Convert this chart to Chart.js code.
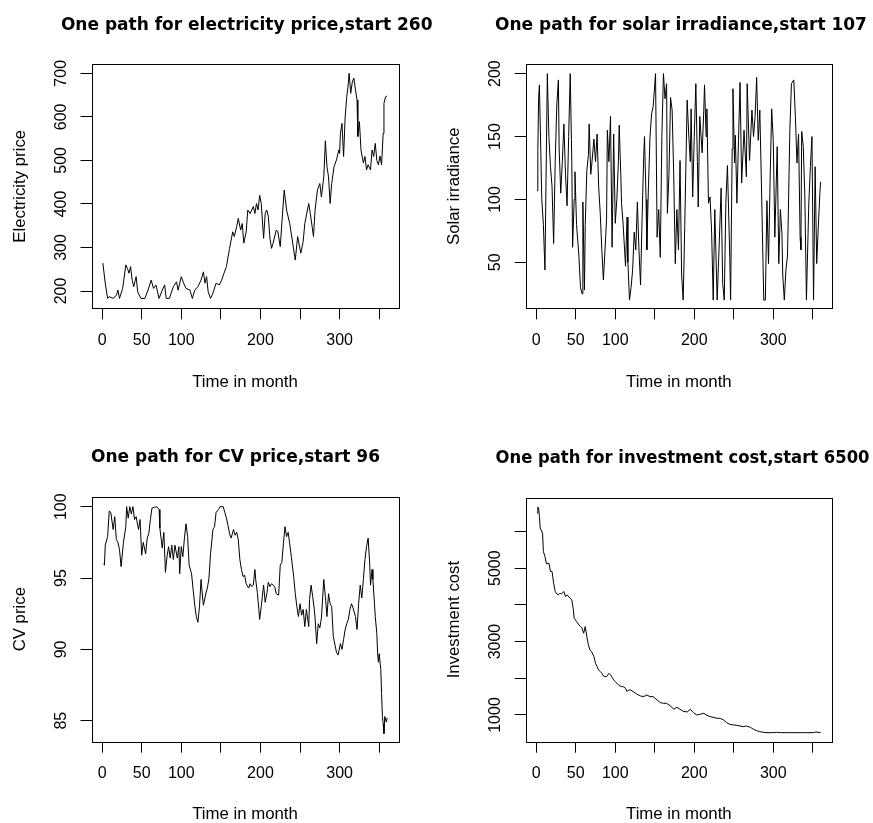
<!DOCTYPE html>
<html><head><meta charset="utf-8">
<script src="https://cdn.jsdelivr.net/npm/chart.js@4.4.1/dist/chart.umd.min.js"></script>
<style>
html,body{margin:0;padding:0;background:#fff;width:873px;height:823px;overflow:hidden;position:relative}
canvas{position:absolute}
</style></head><body>
<canvas id="c1" width="439" height="411" style="left:0px;top:0px"></canvas>
<canvas id="c2" width="439" height="411" style="left:434px;top:0px"></canvas>
<canvas id="c3" width="439" height="411" style="left:0px;top:432px"></canvas>
<canvas id="c4" width="439" height="411" style="left:434px;top:432px"></canvas>
<script>
// ---------- data ----------
const xTickValues = [0, 50, 100, 150, 200, 250, 300, 350];
const xTickLabels = ['0', '50', '100', '', '200', '', '300', ''];
const xAxisTitle = 'Time in month';

const elecTitle = 'One path for electricity price,start 260';
const elecYLabel = 'Electricity price';
const elecYTicks = [200, 300, 400, 500, 600, 700];
const elecYTickLabels = ['200', '300', '400', '500', '600', '700'];
const elecMonths = [1,4,7,9,14,18,20,22,26,30,32,34,36,38,40,43,45,49,54,58,62,65,68,72,76,79,81,85,90,94,96,100,103,106,111,114,117,121,125,128,130,132,134,137,140,144,148,151,154,157,161,165,167,170,172,175,177,179,182,184,187,191,193,195,197,199,201,204,206,208,210,212,214,216,220,222,225,230,233,237,244,247,251,254,256,261,263,267,269,272,275,277,280,282,284,286,288,290,293,296,299,300,301,303,305,307,309,311,312,314,316,318,320,322,323,325,327,330,332,334,336,339,341,343,345,347,349,351,353,355,356,358,360];
const elecValues = [264,218,183,187,183,190,202,183,206,260,252,241,256,225,210,233,198,183,183,202,225,206,214,183,202,214,183,183,210,221,202,233,218,206,202,183,202,210,225,244,218,233,198,183,195,218,214,225,241,256,298,336,325,348,367,340,355,310,336,386,378,394,378,401,386,420,401,321,378,386,371,321,298,310,340,336,302,432,386,355,271,325,287,314,355,401,378,325,386,432,447,416,462,545,486,462,401,447,486,501,524,516,562,585,509,600,646,677,700,654,680,689,662,639,555,589,524,494,509,478,490,478,524,509,539,500,490,510,490,562,631,646,648];

const solarTitle = 'One path for solar irradiance,start 107';
const solarYLabel = 'Solar irradiance';
const solarYTicks = [50, 100, 150, 200];
const solarYTickLabels = ['50', '100', '150', '200'];
const solarMonths = [1,2,3,4,5,7,9,11,14,16,18,20,22,24,26,28,29,31,33,35,37,39,41,43,45,46,48,49,51,54,56,58,59,61,62,64,66,67,69,70,73,75,77,79,81,83,85,87,89,90,92,94,96,98,100,102,104,105,107,108,110,113,115,116,118,120,122,124,126,128,130,132,134,136,137,139,140,142,144,146,148,151,153,155,157,159,161,163,165,166,168,170,172,174,176,178,180,182,184,186,188,189,191,193,195,196,198,200,202,204,205,207,210,212,213,215,216,218,220,222,224,226,229,231,234,236,238,240,242,245,246,248,249,251,252,254,256,258,260,263,266,267,270,273,275,277,279,281,283,285,287,288,290,292,294,296,298,300,302,305,307,309,311,312,314,316,318,319,321,323,326,328,330,332,334,335,336,338,340,342,345,347,349,351,353,355,357,359,360];
const solarValues = [107,139,181,191,160,100,80,44,200,150,126,110,65,130,175,195,140,105,130,160,120,95,150,200,130,62,100,122,80,55,30,25,98,28,80,123,135,160,120,126,148,130,152,110,89,60,36,60,84,155,130,166,62,152,81,100,130,159,120,97,80,47,86,50,20,30,44,74,60,98,60,32,86,134,150,100,60,110,150,168,174,200,70,92,54,150,200,180,192,89,120,181,171,120,49,92,60,131,40,20,80,113,179,152,130,172,102,150,192,130,94,166,137,170,191,150,172,97,102,74,20,92,20,54,109,33,20,97,127,54,20,140,188,129,151,97,147,193,113,155,118,192,131,171,150,166,197,147,171,113,50,20,20,99,49,115,172,147,70,142,49,92,73,40,20,44,55,86,155,192,195,166,129,152,70,60,154,142,102,20,97,126,150,20,126,49,78,105,114];

const cvTitle = 'One path for CV price,start 96';
const cvYLabel = 'CV price';
const cvYTicks = [85, 90, 95, 100];
const cvYTickLabels = ['85', '90', '95', '100'];
const cvMonths = [2,3,4,7,9,11,14,16,18,20,22,24,27,30,31,33,35,37,39,41,43,46,48,50,52,55,57,59,61,63,66,69,72,73,76,78,80,82,84,86,88,90,92,95,97,98,100,102,104,106,108,110,113,115,117,119,121,123,125,127,128,131,133,135,137,140,142,144,147,149,153,155,157,159,161,163,166,168,170,172,174,176,178,180,182,185,187,189,191,193,194,196,198,199,201,204,206,208,210,212,214,216,218,220,223,225,227,229,231,233,235,237,239,242,244,246,248,250,252,254,256,258,261,262,264,266,268,269,271,273,275,277,280,282,284,286,288,290,292,296,298,301,303,305,307,309,311,313,315,317,320,322,324,326,328,330,332,334,336,338,339,341,342,344,345,347,348,349,350,352,353,354,355,356,357,359,360];
const cvValues = [96.0,95.9,97.3,97.9,99.7,99.6,98.4,99.3,97.7,97.5,97.0,95.8,97.5,98.6,100,99.2,100,99.5,100,99.1,99.3,98.4,99.1,96.6,97.5,96.7,97.8,98.1,99.1,99.9,99.95,100,99.8,98.5,97.1,98.2,95.4,96.5,97.2,96.4,97.3,96.3,97.3,96.4,97.2,95.3,97.2,96.5,97.8,98.8,97.9,95.9,95.3,94.2,93.1,92.3,91.9,93.0,94.9,93.6,93.1,93.9,94.3,95.0,96.7,98.4,98.6,99.6,99.8,100,100,99.6,99.2,98.7,98.1,97.8,98.4,98.0,98.2,97.7,96.3,95.6,95.1,95.2,94.6,94.3,94.6,94.4,94.5,95.6,94.9,94.0,92.8,92.1,93.0,94.5,93.3,93.9,94.7,94.4,94.6,94.5,94.4,93.9,93.8,95.9,96.1,97.4,98.6,97.9,98.2,97.4,96.5,95.1,93.9,93.0,92.3,93.2,92.4,92.8,91.6,92.8,91.6,93.5,94.5,93.7,92.8,92.2,90.4,91.8,91.5,92.2,94.9,93.7,92.3,93.9,93.2,93.0,90.9,89.8,89.6,90.4,90.0,90.7,91.4,91.8,92.1,92.8,93.2,92.9,92.3,91.4,93.2,94.5,93.6,94.9,96.3,97.2,97.8,96.0,94.5,95.6,94.9,93.2,92.3,91.1,89.7,89.1,89.7,88.6,86.9,85.3,84.8,84.1,85.3,84.9,85.2];

const invTitle = 'One path for investment cost,start 6500';
const invYLabel = 'Investment cost';
const invYTicks = [1000, 2000, 3000, 4000, 5000, 6000];
const invYTickLabels = ['1000', '', '3000', '', '5000', ''];
const invMonths = [1,2,3,4,5,8,9,11,13,16,18,20,22,24,26,28,30,32,35,37,39,43,45,47,48,51,54,56,58,60,62,64,66,68,70,73,75,77,79,81,83,85,87,89,92,94,96,98,100,102,104,106,108,110,113,115,117,119,123,127,132,136,140,144,148,153,157,161,165,170,174,178,182,186,191,195,199,203,207,212,216,220,224,229,233,237,241,245,250,254,258,262,266,271,275,279,283,288,292,300,304,309,317,326,334,342,351,354,360];
const invValues = [6500,6664,6636,6409,6091,5955,5455,5318,5118,5136,4909,4909,4591,4364,4300,4273,4318,4300,4364,4227,4273,4182,4136,3864,3636,3545,3455,3409,3364,3227,3409,3136,2909,2773,2727,2591,2409,2318,2227,2182,2136,2064,2045,2045,2136,2091,2027,1955,1909,1864,1818,1791,1773,1773,1727,1636,1682,1682,1636,1573,1518,1500,1545,1500,1500,1409,1336,1318,1318,1245,1155,1209,1155,1100,1082,1155,1064,1000,1018,1045,991,955,936,909,909,864,791,745,727,718,700,682,700,664,609,573,545,527,518,518,527,518,518,518,518,518,518,536,518];

// ---------- drawing ----------
const W = 439, H = 411;
const FONT = 'Liberation Sans';

const panelDecor = {
  id: 'panelDecor',
  afterDraw(chart, args, opts) {
    const ctx = chart.ctx, a = chart.chartArea, ys = chart.scales.y;
    ctx.save();
    // frame
    ctx.strokeStyle = '#000';
    ctx.lineWidth = 1;
    ctx.strokeRect(Math.round(a.left) + 0.5, Math.round(a.top) + 0.5,
                   Math.round(a.right) - Math.round(a.left), Math.round(a.bottom) - Math.round(a.top));
    // main title
    ctx.fillStyle = '#000';
    ctx.font = 'bold 17px "DejaVu Sans"';
    ctx.textAlign = 'center';
    ctx.textBaseline = 'middle';
    ctx.fillText(opts.title, opts.titleX, a.top - 39, opts.titleMaxWidth);
    // y tick labels, parallel to the axis
    ctx.font = '16px "' + FONT + '"';
    opts.values.forEach((v, i) => {
      const lab = opts.labels[i];
      if (!lab) return;
      const py = ys.getPixelForValue(v);
      ctx.save();
      ctx.translate(a.left - 30, py);
      ctx.rotate(-Math.PI / 2);
      ctx.fillText(lab, 0, 0);
      ctx.restore();
    });
    ctx.restore();
  }
};

function makeChart(id, p) {
  const pts = p.months.map((m, i) => ({ x: m, y: p.values[i] }));
  return new Chart(document.getElementById(id), {
    type: 'line',
    data: { datasets: [{ data: pts, borderColor: '#000', borderWidth: 1, pointRadius: 0, tension: 0, fill: false }] },
    options: {
      responsive: false, animation: false, devicePixelRatio: 1,
      layout: { padding: { left: 0, top: p.T, right: W - p.R, bottom: 0 } },
      plugins: {
        legend: { display: false }, tooltip: { enabled: false }, title: { display: false },
        panelDecor: { values: p.yTicks, labels: p.yLabels, title: p.title, titleX: p.titleX, titleMaxWidth: p.titleMaxWidth || 1000 }
      },
      scales: {
        x: {
          type: 'linear', min: -13.36, max: 374.36,
          afterBuildTicks: s => { s.ticks = xTickValues.map(v => ({ value: v })); },
          afterFit: s => { s.height = H - p.B; },
          ticks: {
            autoSkip: false, maxRotation: 0, minRotation: 0, padding: 11.5, color: '#000',
            font: { family: FONT, size: 16 },
            callback: v => { const k = xTickValues.indexOf(v); return k >= 0 ? xTickLabels[k] : ''; }
          },
          grid: { drawOnChartArea: false, drawTicks: true, tickLength: 11, color: '#000', lineWidth: 1 },
          border: { display: false },
          title: { display: true, text: xAxisTitle, color: '#000', font: { family: FONT, size: 16.8 }, padding: { top: 0, bottom: 18.2 } }
        },
        y: {
          type: 'linear', min: p.ymin, max: p.ymax,
          afterBuildTicks: s => { s.ticks = p.yTicks.map(v => ({ value: v })); },
          afterFit: s => { s.width = p.L; },
          ticks: { display: false },
          grid: { drawOnChartArea: false, drawTicks: true, tickLength: 11, color: '#000', lineWidth: 1 },
          border: { display: false },
          title: { display: true, text: p.ylabel, color: '#000', font: { family: FONT, size: 16.8 }, padding: { top: 10, bottom: 0 } }
        }
      }
    },
    plugins: [panelDecor]
  });
}

makeChart('c1', { title: elecTitle, titleX: 246.7, ylabel: elecYLabel, months: elecMonths, values: elecValues,
  yTicks: elecYTicks, yLabels: elecYTickLabels, ymin: 160.3, ymax: 720.7, L: 91.5, R: 398.5, T: 64.3, B: 308.3 });
makeChart('c2', { title: solarTitle, titleX: 247, ylabel: solarYLabel, months: solarMonths, values: solarValues,
  yTicks: solarYTicks, yLabels: solarYTickLabels, ymin: 13.5, ymax: 207.4, L: 91.7, R: 398, T: 64.3, B: 308.3 });
makeChart('c3', { title: cvTitle, titleX: 235.5, ylabel: cvYLabel, months: cvMonths, values: cvValues,
  yTicks: cvYTicks, yLabels: cvYTickLabels, ymin: 83.53, ymax: 100.7, L: 91.5, R: 398.5, T: 64.7, B: 309.7 });
makeChart('c4', { title: invTitle, titleX: 248.5, titleMaxWidth: 374, ylabel: invYLabel, months: invMonths, values: invValues,
  yTicks: invYTicks, yLabels: invYTickLabels, ymin: 272, ymax: 6925, L: 91.7, R: 398, T: 65.5, B: 309.7 });
</script>
</body></html>
